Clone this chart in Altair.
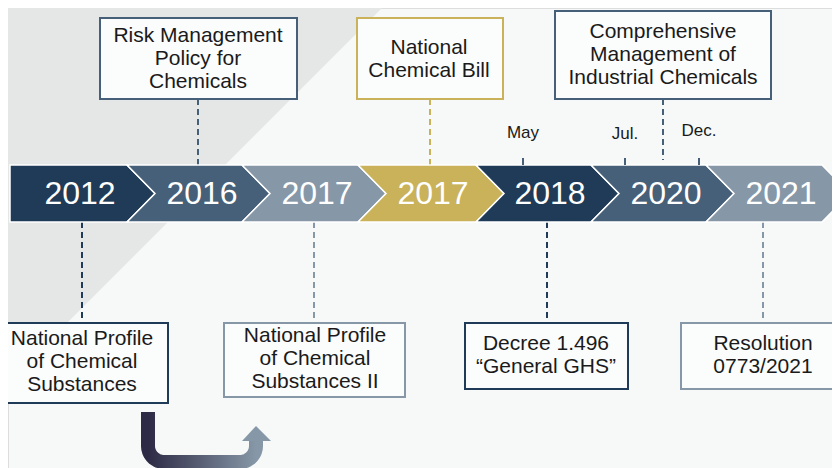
import altair as alt
import pandas as pd
import numpy as np

# ---------------- data ----------------
years = ["2012", "2016", "2017", "2017", "2018", "2020", "2021"]
seg_colors = ["#1f3b57", "#46607a", "#8697a7", "#c9b25a", "#1f3b57", "#46607a", "#8697a7"]
seg_bounds = [10, 127, 242, 358, 476, 591, 706, 822]
year_x = [80, 202, 317, 433, 550, 666, 781]

months = ["May", "Jul.", "Dec."]
month_x = [523, 625, 699]
month_y = [133, 134, 131]

box_names = ["risk", "bill", "comp", "np1", "np2", "decree", "resol"]
box_x1 = [100, 357, 555, -2, 224, 465, 681]
box_x2 = [297, 503, 771, 168, 405, 628, 850]
box_y1 = [18, 18, 11, 323, 323, 323, 323]
box_y2 = [99, 99, 99, 403, 397, 389, 389]
box_colors = ["#46607a", "#c9b25a", "#46607a", "#1f3b57", "#8697a7", "#1f3b57", "#8697a7"]
link_x = [198, 430, 663, 82, 314, 547, 763]
link_y1 = [99, 99, 99, 222, 222, 222, 222]
link_y2 = [165, 165, 160, 323, 323, 323, 323]

box_text_lines = [
    ["Risk Management", "Policy for", "Chemicals"],
    ["National", "Chemical Bill"],
    ["Comprehensive", "Management of", "Industrial Chemicals"],
    ["National Profile", "of Chemical", "Substances"],
    ["National Profile", "of Chemical", "Substances II"],
    ["Decree 1.496", "\u201cGeneral GHS\u201d"],
    ["Resolution", "0773/2021"],
]
box_text_x = [198, 429, 663, 82, 315, 546, 763]
box_text_y0 = [36, 48, 32, 339, 336, 344, 344]
line_step = 23

BAR_TOP, BAR_MID, BAR_BOT, DEPTH = 165, 193.5, 222, 28

# ---------------- scales ----------------
W, H = 824, 460
xs = alt.Scale(domain=[8, 8 + W], nice=False, zero=False)
ys = alt.Scale(domain=[8, 8 + H], nice=False, zero=False, reverse=True)


def X(f):
    return alt.X(f, type="quantitative", scale=xs, axis=None)


def Y(f):
    return alt.Y(f, type="quantitative", scale=ys, axis=None)


# background band
band = pd.DataFrame({"x": [0, 390], "y": [0, 0], "y2": [390, 0]})
band_layer = alt.Chart(band).mark_area(color="#e5e6e6", orient="vertical").encode(
    x=X("x"), y=Y("y"), y2="y2"
)

# connectors
links = pd.DataFrame({"x": link_x, "y1": link_y1, "y2": link_y2, "c": box_colors})
link_layer = alt.Chart(links).mark_rule(strokeWidth=2, strokeDash=[6, 4]).encode(
    x=X("x"), y=Y("y1"), y2="y2", color=alt.Color("c:N", scale=None)
)

# chevrons
rows = []
for i in range(len(years)):
    left, right = seg_bounds[i], seg_bounds[i + 1]
    for yy, mid in [(BAR_TOP, 0), (BAR_MID, 1), (BAR_BOT, 0)]:
        xl = left + (DEPTH * mid if i > 0 else 0)
        xr = right + DEPTH * mid
        rows.append({"seg": i, "y": yy, "xl": xl, "xr": xr, "c": seg_colors[i]})
chev = pd.DataFrame(rows)
chev_layer = alt.Chart(chev).mark_area(orient="horizontal", stroke="white", strokeWidth=1.5).encode(
    y=Y("y"), x=X("xl"), x2="xr", detail="seg:N", color=alt.Color("c:N", scale=None)
)

yr = pd.DataFrame({"x": year_x, "t": years})
year_layer = alt.Chart(yr).mark_text(
    font="Liberation Sans", fontSize=32, color="white", baseline="middle", align="center"
).encode(x=X("x"), y=alt.Y(datum=194, scale=ys, axis=None), text="t:N")

# month ticks and labels
mo = pd.DataFrame({"x": month_x, "y": month_y, "t": months})
tick_layer = alt.Chart(mo).mark_rule(strokeWidth=2, color="#46607a").encode(
    x=X("x"), y=alt.Y(datum=158, scale=ys, axis=None), y2=alt.Y2(datum=165)
)
month_layer = alt.Chart(mo).mark_text(
    font="Liberation Sans", fontSize=17, color="#1a1a1a", baseline="middle", align="center"
).encode(x=X("x"), y=Y("y"), text="t:N")

# boxes
boxes = pd.DataFrame({"x1": box_x1, "x2": box_x2, "y1": box_y1, "y2": box_y2, "c": box_colors})
box_layer = alt.Chart(boxes).mark_rect(fill="#fbfcfc", strokeWidth=2).encode(
    x=X("x1"), x2="x2", y=Y("y1"), y2="y2", stroke=alt.Stroke("c:N", scale=None)
)

trows = []
for lines, bx, by in zip(box_text_lines, box_text_x, box_text_y0):
    for k, t in enumerate(lines):
        trows.append({"x": bx, "y": by + k * line_step, "t": t})
btext = pd.DataFrame(trows)
btext_layer = alt.Chart(btext).mark_text(
    font="Liberation Sans", fontSize=21, color="#1a1a1a", baseline="middle", align="center"
).encode(x=X("x"), y=Y("y"), text="t:N")

# curved arrow
r = 16
ax_l, ax_r, ay_top, ay_bot, ay_head = 148, 256, 412, 462, 441
pts = [(ax_l, ay_top)]
for a in np.linspace(np.pi, np.pi / 2, 10):
    pts.append((ax_l + r + r * np.cos(a), ay_bot - r + r * np.sin(a)))
for a in np.linspace(np.pi / 2, 0, 10):
    pts.append((ax_r - r + r * np.cos(a), ay_bot - r + r * np.sin(a)))
pts.append((ax_r, ay_head))
arrow = pd.DataFrame({"x": [p[0] for p in pts], "y": [p[1] for p in pts], "o": range(len(pts))})
arrow_layer = alt.Chart(arrow).mark_line(
    strokeWidth=14,
    strokeCap="butt",
    strokeJoin="round",
    stroke=alt.Gradient(
        gradient="linear",
        stops=[alt.GradientStop(color="#2d2a45", offset=0), alt.GradientStop(color="#8697a7", offset=1)],
        x1=0, x2=1, y1=0, y2=0,
    ),
).encode(x=X("x"), y=Y("y"), order="o:Q")

head = pd.DataFrame({"x": [242, 256, 271], "y": [441, 441, 441], "y2": [441, 426, 441]})
head_layer = alt.Chart(head).mark_area(color="#8697a7", orient="vertical").encode(
    x=X("x"), y=Y("y"), y2="y2"
)

chart = alt.layer(
    band_layer, link_layer, chev_layer, year_layer, tick_layer, month_layer,
    box_layer, btext_layer, arrow_layer, head_layer,
).properties(
    width=W, height=H, autosize=alt.AutoSizeParams(type="none"), padding=0
).configure_view(stroke=None).configure(background="#f7f9f8")

chart.save("out.html", embed_options={"renderer": "svg", "actions": False})
